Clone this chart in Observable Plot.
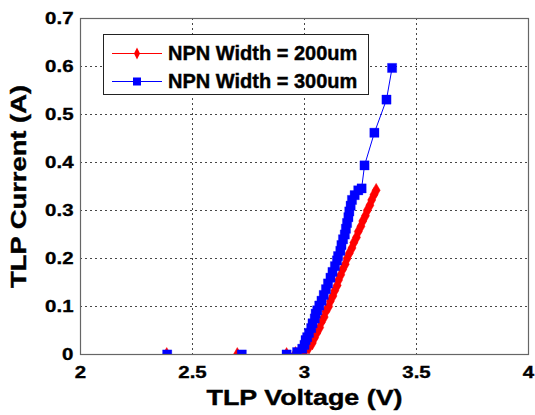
<!DOCTYPE html>
<html><head><meta charset="utf-8">
<script src="https://cdn.jsdelivr.net/npm/d3@7"></script>
<script src="https://cdn.jsdelivr.net/npm/@observablehq/plot@0.6"></script>
<style>
body{margin:0;background:#fff;font-family:Arial,"Liberation Sans",sans-serif}
#wrap{position:relative;width:535px;height:415px}
#legend{position:absolute;left:103px;top:34px;width:264px;height:59px;border:1px solid #222;background:#fff}
.row{position:absolute;left:0;height:24px;display:flex;align-items:center}
.row svg{margin-left:8px}
.row span{margin-left:6px;font-weight:bold;font-size:20px;color:#000;white-space:nowrap;-webkit-text-stroke:0.4px #000}
</style>
</head><body><div id="wrap"><div id="legend"></div></div>
<script>
// NPN Width = 200um (red diamonds)
const voltage200 = [1.0, 2.385, 2.70, 2.92, 2.96, 3.00, 3.02, 3.035, 3.045, 3.055, 3.068, 3.075, 3.088, 3.095, 3.108, 3.115, 3.127, 3.135, 3.146, 3.152, 3.162, 3.17, 3.182, 3.19, 3.2, 3.212, 3.22, 3.232, 3.24, 3.252, 3.26, 3.272, 3.28, 3.292, 3.30, 3.31, 3.32];
const current200 = [0, 0, 0, 0, 0.002, 0.006, 0.015, 0.024, 0.035, 0.045, 0.056, 0.067, 0.078, 0.09, 0.1, 0.111, 0.122, 0.133, 0.144, 0.155, 0.166, 0.177, 0.188, 0.2, 0.211, 0.222, 0.233, 0.244, 0.256, 0.267, 0.278, 0.289, 0.3, 0.311, 0.322, 0.333, 0.342];
// NPN Width = 300um (blue squares)
const voltage300 = [1.0, 2.387, 2.72, 2.92, 2.967, 2.99, 3.0, 3.005, 3.012, 3.02, 3.03, 3.036, 3.046, 3.05, 3.057, 3.066, 3.076, 3.086, 3.096, 3.105, 3.116, 3.125, 3.136, 3.145, 3.15, 3.16, 3.165, 3.172, 3.18, 3.185, 3.19, 3.196, 3.2, 3.206, 3.212, 3.224, 3.24, 3.255, 3.268, 3.312, 3.366, 3.391];
const current300 = [0, 0, 0, 0, 0.005, 0.012, 0.02, 0.03, 0.036, 0.045, 0.055, 0.065, 0.075, 0.085, 0.092, 0.102, 0.112, 0.124, 0.136, 0.148, 0.16, 0.172, 0.184, 0.196, 0.205, 0.216, 0.228, 0.24, 0.25, 0.262, 0.274, 0.286, 0.298, 0.31, 0.322, 0.332, 0.342, 0.346, 0.394, 0.462, 0.531, 0.597];
const seriesNames = ["NPN Width = 200um", "NPN Width = 300um"];
const seriesColors = ["#ff0000", "#0000ff"];
const xTicks = [2, 2.5, 3, 3.5, 4];
const yTicks = [0, 0.1, 0.2, 0.3, 0.4, 0.5, 0.6, 0.7];

const d200 = voltage200.map((v, k) => ({v, i: current200[k]}));
const d300 = voltage300.map((v, k) => ({v, i: current300[k]}));
const font = "Arial, 'Liberation Sans', sans-serif";

const chart = Plot.plot({
  width: 535, height: 415,
  marginLeft: 80, marginRight: 7, marginTop: 18, marginBottom: 61,
  style: {fontFamily: font, background: "#fff", overflow: "visible"},
  x: {domain: [2, 4], ticks: xTicks, label: null},
  y: {domain: [0, 0.7], ticks: yTicks, label: null},
  marks: [
    Plot.gridX(xTicks, {stroke: "#333", strokeOpacity: 0.9, strokeDasharray: "2,3"}),
    Plot.gridY(yTicks, {stroke: "#333", strokeOpacity: 0.9, strokeDasharray: "2,3"}),
    Plot.line(d200, {x: "v", y: "i", stroke: seriesColors[0], strokeWidth: 1, clip: true}),
    Plot.dot(d200, {x: "v", y: "i", symbol: "diamond", r: 4.2, fill: seriesColors[0], stroke: seriesColors[0], strokeWidth: 0.5, clip: true}),
    Plot.line(d300, {x: "v", y: "i", stroke: seriesColors[1], strokeWidth: 1, clip: true}),
    Plot.dot(d300, {x: "v", y: "i", symbol: "square", r: 5.2, fill: seriesColors[1], stroke: seriesColors[1], strokeWidth: 0.3, clip: true}),
    Plot.frame({stroke: "#666", strokeWidth: 1.2}),
    Plot.axisX(xTicks, {tickSize: 0, tickPadding: 11, fontSize: 17, fontWeight: "bold", fill: "#000",
      tickFormat: d => String(d), label: "TLP Voltage (V)", labelAnchor: "center", labelArrow: "none", labelOffset: 50}),
    Plot.axisY(yTicks, {tickSize: 0, tickPadding: 7, fontSize: 17, fontWeight: "bold", fill: "#000",
      tickFormat: d => String(d), label: "TLP Current (A)", labelAnchor: "center", labelArrow: "none", labelOffset: 70})
  ]
});
document.getElementById("wrap").prepend(chart);

chart.querySelectorAll("[aria-label='x-axis tick label'] text, [aria-label='y-axis tick label'] text").forEach(t => {
  t.style.fontSize = "17px"; t.style.fontWeight = "bold"; t.style.stroke = "#000"; t.style.strokeWidth = "0.35px";
  const w = t.getComputedTextLength();
  t.setAttribute("textLength", (w * 1.2).toFixed(1));
  t.setAttribute("lengthAdjust", "spacingAndGlyphs");
});
const axisLabelWidths = {"x-axis label": 196, "y-axis label": 203};
Object.entries(axisLabelWidths).forEach(([aria, w]) => {
  chart.querySelectorAll(`[aria-label='${aria}'] text`).forEach(t => {
    t.style.fontSize = "22px"; t.style.fontWeight = "bold"; t.style.stroke = "#000"; t.style.strokeWidth = "0.4px";
    t.setAttribute("textLength", w);
    t.setAttribute("lengthAdjust", "spacingAndGlyphs");
  });
});

const legend = document.getElementById("legend");
seriesNames.forEach((name, k) => {
  const row = document.createElement("div");
  row.className = "row";
  row.style.top = (6 + k * 28) + "px";
  const sym = k === 0
    ? `<path d="M25,3.5 L28,9.5 L25,15.5 L22,9.5Z" fill="${seriesColors[k]}"/>`
    : `<rect x="21" y="5.5" width="8" height="8" fill="${seriesColors[k]}"/>`;
  row.innerHTML = `<svg width="50" height="19"><line x1="0" x2="50" y1="9.5" y2="9.5" stroke="${seriesColors[k]}" stroke-width="1"/>${sym}</svg><span>${name}</span>`;
  legend.appendChild(row);
});
</script>
</body></html>
